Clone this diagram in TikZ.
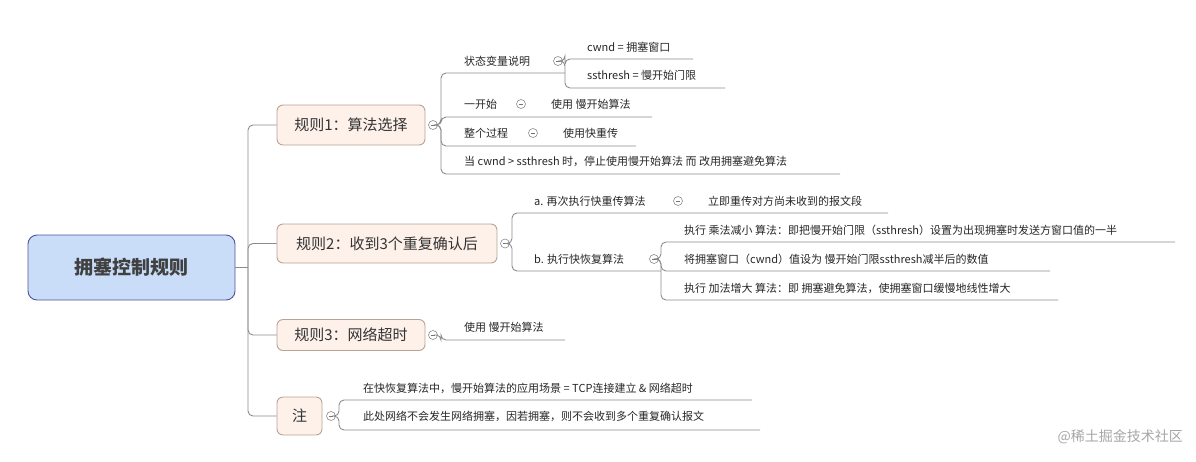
\documentclass[tikz,border=0pt]{standalone}
\usepackage{fontspec}
\setmainfont{Noto Sans CJK SC}
\begin{document}
\begin{tikzpicture}[x=1pt,y=-1pt,
  ln/.style={draw=black!45,line width=0.9pt,rounded corners=5pt},
  rootbox/.style={draw=black!20!blue!35!gray,line width=0.9pt,fill=rootfill,rounded corners=9pt},
  brbox/.style={draw=brborder,line width=0.9pt,fill=brfill,rounded corners=6pt},
  col/.style={circle,draw=black!45,line width=0.6pt,minimum size=9pt,inner sep=0pt,fill=white,
     path picture={\draw[black!55,line width=0.6pt] ([xshift=-2.2pt]path picture bounding box.center)--([xshift=2.2pt]path picture bounding box.center);}},
  lf/.style={anchor=west,inner sep=0pt,font=\fontsize{11}{13}\selectfont,text=black!85}]
\definecolor{rootfill}{HTML}{C9DDF8}
\definecolor{brfill}{HTML}{FDF1EA}
\definecolor{brborder}{HTML}{B8A394}
\useasboundingbox (0,0) rectangle (1196,461);
% root
\node[rootbox,minimum width=207pt,minimum height=65pt,font=\fontsize{19}{22}\selectfont\bfseries,text=black!75] (root) at (131.5,267.5) {拥塞控制规则};
% branches
\node[brbox,minimum width=148pt,minimum height=40pt,font=\fontsize{15}{18}\selectfont,text=black!80] (b1) at (351,125) {规则1：算法选择};
\node[brbox,minimum width=220pt,minimum height=39pt,font=\fontsize{15}{18}\selectfont,text=black!80] (b2) at (387,243.5) {规则2：收到3个重复确认后};
\node[brbox,minimum width=148pt,minimum height=31pt,font=\fontsize{15}{18}\selectfont,text=black!80] (b3) at (351,335) {规则3：网络超时};
\node[brbox,minimum width=45pt,minimum height=38pt,font=\fontsize{15}{18}\selectfont,text=black!80] (b4) at (299.5,416) {注};
\coordinate (t) at (248,267.5);
\draw[ln] (root.east) -- (t);
\foreach \b in {b1,b2,b3,b4}{\draw[ln] (t) |- (\b.west);}
% collapse circles
\node[col] (c1) at (433,125) {};
\node[col] (c2) at (505,243.5) {};
\node[col] (c3) at (433,335) {};
\node[col] (c4) at (331,416) {};
% branch 1 leaves
\node[lf] (l11) at (464,61) {状态变量说明};
\node[lf] (l12) at (464,104) {一开始};
\node[lf] (l13) at (464,133) {整个过程};
\node[lf] (l14) at (464,161) {当 cwnd > ssthresh 时，停止使用慢开始算法 而 改用拥塞避免算法};
\coordinate (e11) at (565,73); \coordinate (e12) at (652,117);
\coordinate (e13) at (636,146); \coordinate (e14) at (840,174);
\foreach \e in {e11,e12,e13,e14}{\draw[ln] (c1.east) -- (441,125) |- (\e);}
\node[col] (c11) at (558,61) {};
\node[lf] (l111) at (587,47) {cwnd = 拥塞窗口};
\node[lf] (l112) at (587,75) {ssthresh = 慢开始门限};
\coordinate (e111) at (693,59); \coordinate (e112) at (725,88);
\foreach \e in {e111,e112}{\draw[ln] (c11.east) -- (565,61) |- (\e);}
\node[col] (c12) at (521,104) {};
\node[lf] (l121) at (551,104) {使用 慢开始算法};
\node[col] (c13) at (533,133) {};
\node[lf] (l131) at (563,133) {使用快重传};
% branch 2
\node[lf] (l21) at (534,201) {a. 再次执行快重传算法};
\node[lf] (l22) at (534,259) {b. 执行快恢复算法};
\coordinate (e21) at (888,213); \coordinate (e22) at (661,271);
\foreach \e in {e21,e22}{\draw[ln] (c2.east) -- (512,243.5) |- (\e);}
\node[col] (c21) at (678,201) {};
\node[lf] (l211) at (708,201) {立即重传对方尚未收到的报文段};
\node[col] (c22) at (654,259) {};
\node[lf] (l221) at (684,230) {执行 乘法减小 算法：即把慢开始门限（ssthresh）设置为出现拥塞时发送方窗口值的一半};
\node[lf] (l222) at (684,259) {将拥塞窗口（cwnd）值设为 慢开始门限ssthresh减半后的数值};
\node[lf] (l223) at (684,288) {执行 加法增大 算法：即 拥塞避免算法，使拥塞窗口缓慢地线性增大};
\coordinate (e221) at (1175,242); \coordinate (e222) at (1050,271); \coordinate (e223) at (1058,300);
\foreach \e in {e221,e222,e223}{\draw[ln] (c22.east) -- (661,259) |- (\e);}
% branch 3
\node[lf] (l31) at (464,327) {使用 慢开始算法};
\coordinate (e31) at (565,340);
\draw[ln] (c3.east) -- (441,335) |- (e31);
% branch 4
\node[lf] (l41) at (363,388) {在快恢复算法中，慢开始算法的应用场景 = TCP连接建立 \& 网络超时};
\node[lf] (l42) at (363,416) {此处网络不会发生网络拥塞，因若拥塞，则不会收到多个重复确认报文};
\coordinate (e41) at (752,400); \coordinate (e42) at (760,430);
\foreach \e in {e41,e42}{\draw[ln] (c4.east) -- (339,416) |- (\e);}
% watermark
\node[anchor=east,inner sep=0pt,font=\fontsize{14}{16}\selectfont,text=black!35] (wm) at (1183,437) {@稀土掘金技术社区};
\end{tikzpicture}
\end{document}
